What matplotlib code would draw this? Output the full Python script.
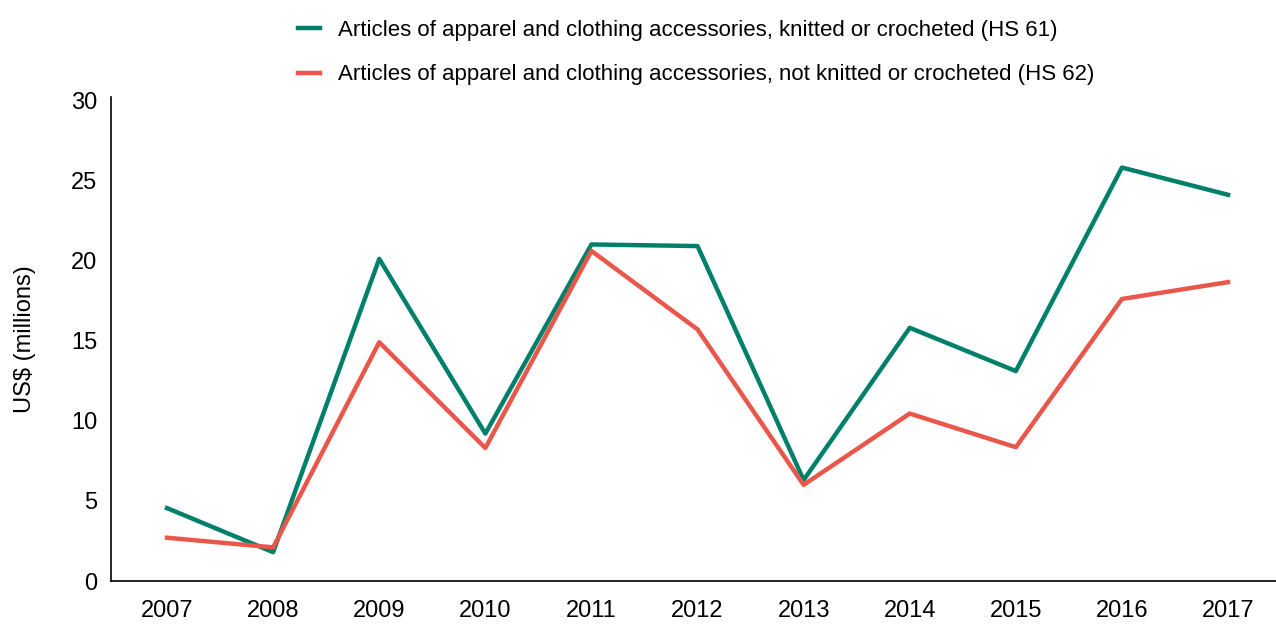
import matplotlib
matplotlib.use("Agg")
import matplotlib.pyplot as plt

plt.rcParams['font.family'] = ['Liberation Sans', 'DejaVu Sans']

years = [2007, 2008, 2009, 2010, 2011, 2012, 2013, 2014, 2015, 2016, 2017]
knitted = [4.55, 1.8, 20.1, 9.2, 21.0, 20.9, 6.3, 15.8, 13.1, 25.8, 24.1]
not_knitted = [2.7, 2.1, 14.9, 8.3, 20.6, 15.7, 6.0, 10.45, 8.35, 17.6, 18.65]

label_61 = "Articles of apparel and clothing accessories, knitted or crocheted (HS 61)"
label_62 = "Articles of apparel and clothing accessories, not knitted or crocheted (HS 62)"

green = '#00806b'
red = '#e8574a'

fig = plt.figure(figsize=(12.76, 6.28), dpi=100)
ax = fig.add_axes([0.087, 0.0748, 0.913, 0.7707])

l1, = ax.plot(years, knitted, color=green, lw=3.2, label=label_61)
l2, = ax.plot(years, not_knitted, color=red, lw=3.2, label=label_62)

ax.set_xlim(2006.472, 2017.452)
ax.set_ylim(0, 30.2)
ax.set_xticks(years)
ax.set_yticks([0, 5, 10, 15, 20, 25, 30])
ax.tick_params(axis='both', length=0, labelsize=17)
ax.tick_params(axis='x', pad=14)
ax.tick_params(axis='y', pad=10)
for side in ['top', 'right']:
    ax.spines[side].set_visible(False)
for side in ['left', 'bottom']:
    ax.spines[side].set_linewidth(1.2)
ax.set_ylabel('US$ (millions)', fontsize=17, labelpad=25)

fig.legend(handles=[l1, l2], loc='upper left', bbox_to_anchor=(0.218, 1.0),
           frameon=False, fontsize=16, handlelength=1.0, handletextpad=0.8,
           labelspacing=1.05)

fig.savefig('out.png', dpi=100)
